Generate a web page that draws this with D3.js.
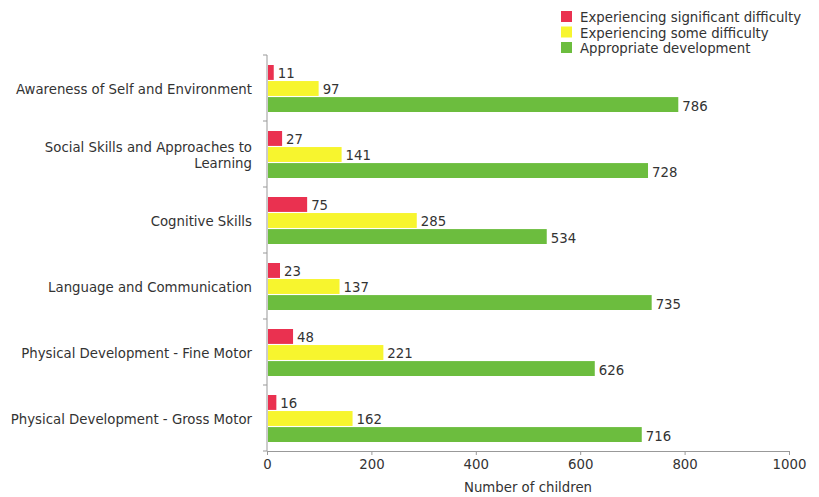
<!DOCTYPE html>
<html>
<head>
<meta charset="utf-8">
<script src="https://cdn.jsdelivr.net/npm/d3@7"></script>
<style>
  body { margin: 0; background: #fff; }
  text { font-family: "DejaVu Sans", sans-serif; fill: #333; }
</style>
</head>
<body>
<svg id="chart"></svg>
<script>
const width = 819, height = 497
const margin = { top: 55, bottom: 46, left: 267, right: 30 }
const fontSize = 13.3

const categories = [
    "Awareness of Self and Environment",
    "Social Skills and Approaches to Learning",
    "Cognitive Skills",
    "Language and Communication",
    "Physical Development - Fine Motor",
    "Physical Development - Gross Motor",
]
const seriesNames = [
    "Experiencing significant difficulty",
    "Experiencing some difficulty",
    "Appropriate development",
]
const significant = [11, 27, 75, 23, 48, 16]
const some = [97, 141, 285, 137, 221, 162]
const appropriate = [786, 728, 534, 735, 626, 716]
const xTicks = [0, 200, 400, 600, 800, 1000]
const colors = ["#ea3150", "#f7f52e", "#6cbd3e"]

const series = [significant, some, appropriate]
const data = categories.map((c, i) => ({
    category: c,
    values: series.map((s, j) => ({ key: seriesNames[j], value: s[i] }))
}))

const svg = d3.select("svg#chart")
    .attr("width", width)
    .attr("height", height)
    .attr("viewBox", [0, 0, width, height])

const xScale = d3.scaleLinear()
    .domain([0, 1000])
    .range([margin.left, 789])

const yScale = d3.scaleBand()
    .domain(categories)
    .range([margin.top, 451])

const subScale = d3.scaleBand()
    .domain(seriesNames)
    .range([10, yScale.bandwidth() - 9])
    .paddingInner(0.07)

const colorScale = d3.scaleOrdinal(seriesNames, colors)

// axes
const xAxis = svg.append("g")
    .attr("transform", `translate(0, 451)`)
    .call(d3.axisBottom(xScale).tickValues(xTicks).tickFormat(d3.format("d"))
        .tickSizeOuter(0).tickSize(4).tickPadding(5))
xAxis.select(".domain").attr("stroke", "#999")
xAxis.selectAll(".tick line").attr("stroke", "#999")
xAxis.selectAll(".tick text").attr("font-size", fontSize).attr("fill", "#333")
    .attr("font-family", "DejaVu Sans, sans-serif")

// y axis: ticks sit at band boundaries
const yAxis = svg.append("g")
yAxis.append("line")
    .attr("x1", margin.left).attr("x2", margin.left)
    .attr("y1", margin.top).attr("y2", 451)
    .attr("stroke", "#999")
const boundaries = categories.map(c => yScale(c)).concat([yScale.range()[1]])
yAxis.selectAll("line.ytick")
    .data(boundaries)
    .join("line").attr("class", "ytick")
    .attr("x1", margin.left - 4).attr("x2", margin.left)
    .attr("y1", d => d).attr("y2", d => d)
    .attr("stroke", "#999")

// category labels (wrap the long one)
const wrapped = {
    "Social Skills and Approaches to Learning": ["Social Skills and Approaches to", "Learning"]
}
svg.selectAll("text.cat")
    .data(categories)
    .join("text").attr("class", "cat")
    .attr("text-anchor", "end")
    .attr("font-size", fontSize)
    .attr("x", margin.left - 15)
    .attr("y", d => yScale(d) + yScale.bandwidth() / 2)
    .each(function (d) {
        const lines = wrapped[d] || [d]
        const t = d3.select(this)
        lines.forEach((l, i) => {
            t.append("tspan")
                .attr("x", margin.left - 15)
                .attr("dy", i === 0 ? (0.45 - (lines.length - 1) * 0.6) + "em" : "1.2em")
                .text(l)
        })
    })

// bars
const groups = svg.selectAll("g.bar")
    .data(data)
    .join("g").attr("class", "bar")
    .attr("transform", d => `translate(0, ${yScale(d.category)})`)

groups.selectAll("rect")
    .data(d => d.values)
    .join("rect")
    .attr("x", xScale(0) + 1)
    .attr("y", d => subScale(d.key))
    .attr("width", d => xScale(d.value) - xScale(0))
    .attr("height", subScale.bandwidth())
    .attr("fill", d => colorScale(d.key))

groups.selectAll("text.val")
    .data(d => d.values)
    .join("text").attr("class", "val")
    .attr("x", d => xScale(d.value) + 5)
    .attr("y", d => subScale(d.key) + subScale.bandwidth() / 2)
    .attr("dy", "0.45em")
    .attr("font-size", fontSize)
    .text(d => d.value)

// x axis title
svg.append("text")
    .attr("x", (xScale.range()[0] + xScale.range()[1]) / 2)
    .attr("y", 492)
    .attr("text-anchor", "middle")
    .attr("font-size", fontSize)
    .text("Number of children")

// legend
const legend = svg.selectAll("g.legend")
    .data(seriesNames)
    .join("g").attr("class", "legend")
    .attr("transform", (d, i) => `translate(561, ${11 + i * 15.5})`)
legend.append("rect")
    .attr("width", 11).attr("height", 11)
    .attr("fill", d => colorScale(d))
legend.append("text")
    .attr("x", 19).attr("y", 6)
    .attr("dy", "0.4em")
    .attr("font-size", fontSize)
    .text(d => d)
</script>
</body>
</html>
